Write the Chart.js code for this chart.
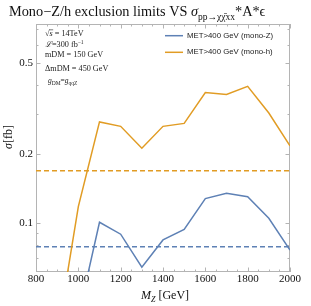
<!DOCTYPE html>
<html><head><meta charset="utf-8">
<script src="https://cdn.jsdelivr.net/npm/chart.js@4"></script>
<style>html,body{margin:0;padding:0;background:#fff}#wrap{width:311px;height:306px;position:relative}</style>
</head><body><div id="wrap"><canvas id="c" width="311" height="306"></canvas></div>
<script>
// ---- data ----
const massPoints = [900, 1000, 1100, 1200, 1300, 1400, 1500, 1600, 1700, 1800, 1900, 2000];
const monoZ = [null, 0.039, 0.1006, 0.0892, 0.064, 0.0842, 0.0937, 0.1276, 0.1347, 0.130, 0.1047, 0.0761];
const monoH = [0.032, 0.1177, 0.276, 0.264, 0.212, 0.264, 0.272, 0.371, 0.364, 0.395, 0.302, 0.217];
const limitMass = [800, 2000];
const limitZ = [0.0787, 0.0787];
const limitH = [0.169, 0.169];
const xTickLabels = [800, 1000, 1200, 1400, 1600, 1800, 2000];
const yTickLabels = [0.1, 0.2, 0.5];
const yMinorTicks = [0.07, 0.08, 0.09, 0.3, 0.4, 0.6, 0.7];
const seriesNames = ['MET>400 GeV (mono-Z)', 'MET>400 GeV (mono-h)'];

const BLUE = '#5E81B5', ORANGE = '#E19C24', FRAME = '#b4b4b4';
const pts = (xs, ys) => xs.map((x, i) => ({x: x, y: ys[i]}));

const overlay = {
  id: 'overlay',
  beforeDatasetsDraw(chart) {
    const {ctx, chartArea: a, scales: {x, y}} = chart;
    ctx.save();
    ctx.strokeStyle = FRAME; ctx.lineWidth = 1;
    ctx.strokeRect(a.left + 0.5, a.top + 0.5, a.right - a.left - 1, a.bottom - a.top - 1);
    ctx.beginPath();
    for (let v = 800; v <= 2000; v += 50) {
      const px = Math.round(x.getPixelForValue(v)) + 0.5;
      const len = (v % 200 === 0) ? 4.5 : 2.5;
      ctx.moveTo(px, a.bottom); ctx.lineTo(px, a.bottom - len);
      ctx.moveTo(px, a.top); ctx.lineTo(px, a.top + len);
    }
    const yt = yTickLabels.map(v => [v, 4.5]).concat(yMinorTicks.map(v => [v, 2.5]));
    yt.forEach(([v, len]) => {
      const py = Math.round(y.getPixelForValue(v)) + 0.5;
      ctx.moveTo(a.left, py); ctx.lineTo(a.left + len, py);
      ctx.moveTo(a.right, py); ctx.lineTo(a.right - len, py);
    });
    ctx.stroke();
    ctx.restore();
  },
  afterDraw(chart) {
    const {ctx} = chart;
    ctx.save();
    ctx.fillStyle = '#111';
    ctx.textBaseline = 'alphabetic';
    const runs = (x0, yb, list) => {
      let xx = x0;
      list.forEach(([t, f, dy]) => {
        ctx.font = f; ctx.fillText(t, xx, yb + (dy || 0));
        xx += ctx.measureText(t).width;
      });
      return xx;
    };
    const S = '"Liberation Serif", serif';
    // title
    runs(9, 16, [
      ['Mono\u2212Z/h exclusion limits VS ', '14.3px ' + S],
      ['\u03C3', 'italic 14.3px ' + S],
      ['pp\u2192\u03C7\u03C7\u0304xx', '9.5px ' + S, 4],
      ['*A*\u03F5', '14.3px ' + S]
    ]);
    // annotations
    const AF = '8.2px ' + S;
    ctx.fillStyle = '#222';
    let xe = runs(45, 36, [['\u221A', AF]]);
    const xs0 = xe;
    xe = runs(xe, 36, [['s', 'italic ' + AF]]);
    ctx.strokeStyle = '#222'; ctx.lineWidth = 0.6;
    ctx.beginPath(); ctx.moveTo(xs0 - 0.5, 29.8); ctx.lineTo(xe + 0.5, 29.8); ctx.stroke();
    runs(xe, 36, [[' = 14TeV', AF]]);
    runs(45, 46.7, [['\u2112', 'italic ' + AF], ['=300 fb', AF], ['\u22121', '5.5px ' + S, -3.2]]);
    runs(45, 57.3, [['mDM = 150 GeV', AF]]);
    runs(45, 70.7, [['\u0394mDM = 450 GeV', AF]]);
    runs(48, 83.3, [['g', 'italic 7.5px ' + S], ['DM', '5.5px ' + S, 1.5], ['=', '7.5px ' + S], ['g', 'italic 7.5px ' + S], ['qqZ', '5.5px ' + S, 1.5]]);
    // legend
    const leg = [[seriesNames[0], BLUE, 35.7], [seriesNames[1], ORANGE, 52.3]];
    leg.forEach(([t, c, yy]) => {
      ctx.strokeStyle = c; ctx.lineWidth = 1.5;
      ctx.beginPath(); ctx.moveTo(165, yy); ctx.lineTo(183, yy); ctx.stroke();
      ctx.fillStyle = '#222'; ctx.font = '7.8px "Liberation Sans", sans-serif';
      ctx.textBaseline = 'middle'; ctx.fillText(t, 187, yy);
    });
    ctx.textBaseline = 'alphabetic';
    ctx.fillStyle = '#111';
    // x title
    runs(141, 299, [['M', 'italic 12px ' + S], ['Z', 'italic 8px ' + S, 2.5], [' [GeV]', '12px ' + S]]);
    // y title
    ctx.translate(12, 137); ctx.rotate(-Math.PI / 2);
    ctx.font = 'italic 12px ' + S;
    const w1 = ctx.measureText('\u03C3').width;
    ctx.font = '12px ' + S;
    const w2 = ctx.measureText('[fb]').width;
    runs(-(w1 + w2) / 2, 0, [['\u03C3', 'italic 12px ' + S], ['[fb]', '12px ' + S]]);
    ctx.restore();
  }
};

new Chart(document.getElementById('c'), {
  type: 'line',
  data: {
    datasets: [
      {label: seriesNames[0], data: pts(massPoints, monoZ), borderColor: BLUE, borderWidth: 1.5, pointRadius: 0, tension: 0, fill: false},
      {label: seriesNames[1], data: pts(massPoints, monoH), borderColor: ORANGE, borderWidth: 1.5, pointRadius: 0, tension: 0, fill: false},
      {label: 'limit Z', data: pts(limitMass, limitZ), borderColor: BLUE, borderWidth: 1.5, borderDash: [5, 3], pointRadius: 0, fill: false},
      {label: 'limit h', data: pts(limitMass, limitH), borderColor: ORANGE, borderWidth: 1.5, borderDash: [5, 3], pointRadius: 0, fill: false}
    ]
  },
  options: {
    responsive: false, animation: false, devicePixelRatio: 1,
    layout: {padding: {top: 24, right: 21, left: 0, bottom: 0}},
    plugins: {legend: {display: false}, title: {display: false}, tooltip: {enabled: false}},
    scales: {
      x: {
        type: 'linear', min: 800, max: 2000,
        grid: {display: false, drawTicks: false}, border: {display: false},
        afterBuildTicks: s => { s.ticks = xTickLabels.map(v => ({value: v})); },
        afterFit: s => { s.height = 34; },
        ticks: {padding: 1, color: '#111', font: {family: 'Liberation Serif', size: 11}, maxRotation: 0, autoSkip: false, callback: v => String(v)}
      },
      y: {
        type: 'logarithmic', min: 0.061, max: 0.739,
        grid: {display: false, drawTicks: false}, border: {display: false},
        afterBuildTicks: s => { s.ticks = yTickLabels.map(v => ({value: v})); },
        afterFit: s => { s.width = 36; },
        ticks: {padding: 3, color: '#111', font: {family: 'Liberation Serif', size: 11}, autoSkip: false, callback: v => String(v)}
      }
    }
  },
  plugins: [overlay]
});
</script>
</body></html>
